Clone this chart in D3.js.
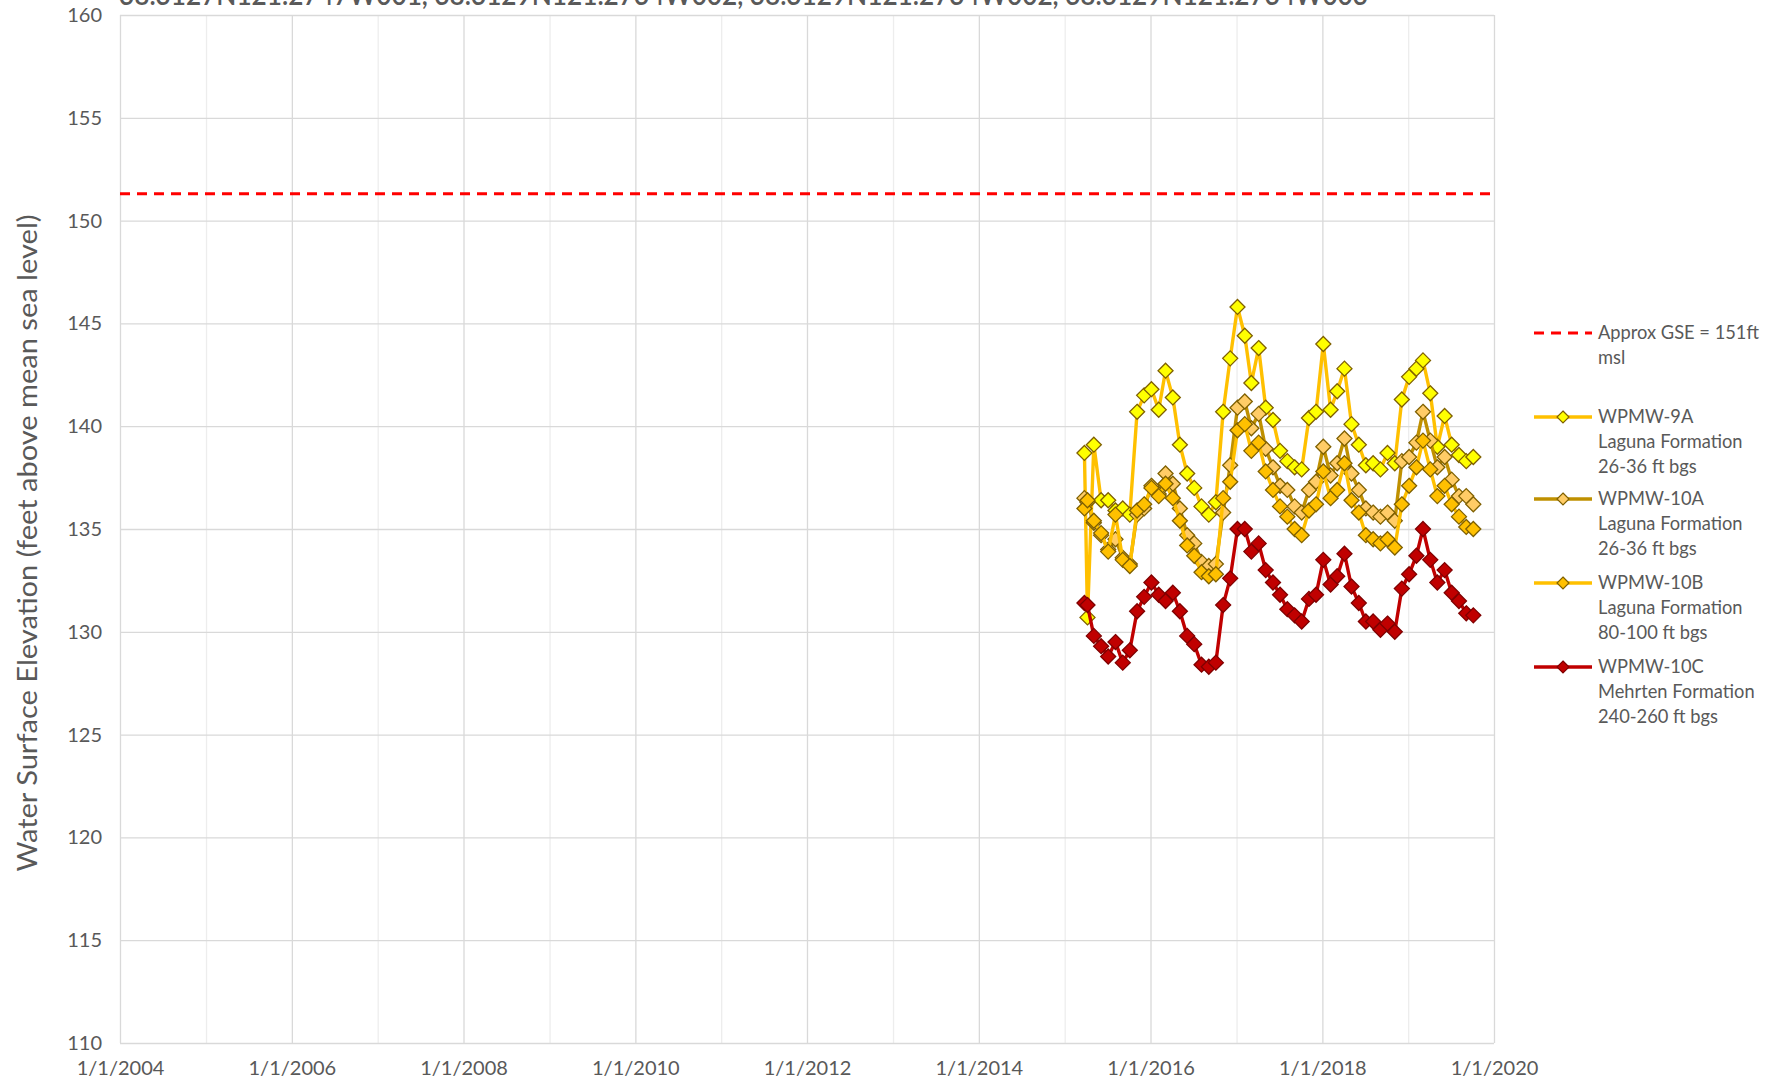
<!DOCTYPE html>
<html>
<head>
<meta charset="utf-8">
<script src="https://cdn.jsdelivr.net/npm/d3@7"></script>
<style>
  body { margin: 0; background: #fff; }
  text { font-family: Lato, "Open Sans", sans-serif; fill: #595959; }
</style>
</head>
<body>
<div id="chart"></div>
<script>
// sampling dates (shared by all four wells)
var dates = [
  "2015-03-26", "2015-04-08", "2015-05-05", "2015-06-05", "2015-07-05", "2015-08-05",
  "2015-09-05", "2015-10-05", "2015-11-05", "2015-12-05",
  "2016-01-05", "2016-02-05", "2016-03-05", "2016-04-05", "2016-05-05", "2016-06-05",
  "2016-07-05", "2016-08-05", "2016-09-05", "2016-10-05", "2016-11-05", "2016-12-05",
  "2017-01-05", "2017-02-05", "2017-03-05", "2017-04-05", "2017-05-05", "2017-06-05",
  "2017-07-05", "2017-08-05", "2017-09-05", "2017-10-05", "2017-11-05", "2017-12-05",
  "2018-01-05", "2018-02-05", "2018-03-05", "2018-04-05", "2018-05-05", "2018-06-05",
  "2018-07-05", "2018-08-05", "2018-09-05", "2018-10-05", "2018-11-05", "2018-12-05",
  "2019-01-05", "2019-02-05", "2019-03-05", "2019-04-05", "2019-05-05", "2019-06-05",
  "2019-07-05", "2019-08-05", "2019-09-05", "2019-10-05"
];

var wpmw9A = [
  138.7, 130.7, 139.1, 136.4, 136.4, 135.9, 136.0, 135.7, 140.7, 141.5,
  141.8, 140.8, 142.7, 141.4, 139.1, 137.7, 137.0, 136.1, 135.7, 136.3, 140.7, 143.3,
  145.8, 144.4, 142.1, 143.8, 140.9, 140.3, 138.8, 138.3, 138.0, 137.9, 140.4, 140.7,
  144.0, 140.8, 141.7, 142.8, 140.1, 139.1, 138.1, 138.2, 137.9, 138.7, 138.2, 141.3,
  142.4, 142.8, 143.2, 141.6, 139.0, 140.5, 139.1, 138.6, 138.3, 138.5
];

var wpmw10A = [
  136.5, 136.3, 135.3, 134.7, 134.0, 134.5, 133.6, 133.3, 135.7, 136.0,
  137.1, 136.7, 137.7, 137.2, 136.0, 134.7, 134.3, 133.4, 133.2, 133.3, 135.8, 138.1,
  140.9, 141.2, 139.9, 140.6, 138.9, 138.0, 137.1, 136.9, 136.1, 135.8, 136.9, 137.3,
  139.0, 137.6, 138.2, 139.4, 137.7, 136.9, 136.0, 135.8, 135.6, 135.8, 135.4, 138.3,
  138.5, 139.2, 140.7, 139.3, 138.0, 138.5, 137.4, 136.6, 136.6, 136.2
];

var wpmw10B = [
  136.0, 136.4, 135.4, 134.8, 133.9, 135.7, 133.5, 133.2, 135.9, 136.2,
  137.0, 136.6, 137.2, 136.5, 135.4, 134.2, 133.7, 132.9, 132.7, 132.8, 136.5, 137.3,
  139.8, 140.1, 138.8, 139.2, 137.8, 136.9, 136.1, 135.6, 135.0, 134.7, 135.9, 136.2,
  137.8, 136.5, 136.9, 138.2, 136.4, 135.8, 134.7, 134.5, 134.3, 134.5, 134.1, 136.2,
  137.1, 138.0, 139.3, 137.9, 136.6, 137.1, 136.2, 135.6, 135.1, 135.0
];

var wpmw10C = [
  131.4, 131.3, 129.8, 129.3, 128.8, 129.5, 128.5, 129.1, 131.0, 131.7,
  132.4, 131.8, 131.5, 131.9, 131.0, 129.8, 129.4, 128.4, 128.3, 128.5, 131.3, 132.6,
  135.0, 135.0, 133.9, 134.3, 133.0, 132.4, 131.8, 131.1, 130.8, 130.5, 131.6, 131.8,
  133.5, 132.3, 132.7, 133.8, 132.2, 131.4, 130.5, 130.5, 130.1, 130.4, 130.0, 132.1,
  132.8, 133.7, 135.0, 133.5, 132.4, 133.0, 131.9, 131.5, 130.9, 130.8
];

var gseLevel = 151.3;
var yTicks = [110, 115, 120, 125, 130, 135, 140, 145, 150, 155, 160];
var xMajorYears = [2004, 2006, 2008, 2010, 2012, 2014, 2016, 2018, 2020];
var xMinorYears = [2005, 2007, 2009, 2011, 2013, 2015, 2017, 2019];
var seriesNames = ["WPMW-9A", "WPMW-10A", "WPMW-10B", "WPMW-10C"];
var seriesNotes = [
  ["Laguna Formation", "26-36 ft bgs"],
  ["Laguna Formation", "26-36 ft bgs"],
  ["Laguna Formation", "80-100 ft bgs"],
  ["Mehrten Formation", "240-260 ft bgs"]
];
var gseLabel = ["Approx GSE = 151ft", "msl"];
var titleText = "38.3127N121.2747W001, 38.3129N121.2734W002, 38.3129N121.2734W002, 38.3129N121.2734W003";

(function() {

  var W = 1775, H = 1082;
  var margin = {top: 15, right: 281, bottom: 39, left: 120},
      width = W - margin.left - margin.right,
      height = H - margin.top - margin.bottom;

  // line colour, marker fill, marker outline
  var styles = [
    {line: '#FFC000', fill: '#FFFF00', stroke: '#7F6000'},
    {line: '#BF9000', fill: '#FFCC66', stroke: '#7F6000'},
    {line: '#FFC000', fill: '#FFC000', stroke: '#7F6000'},
    {line: '#C00000', fill: '#C00000', stroke: '#7F0000'}
  ];
  var allSeries = [wpmw9A, wpmw10A, wpmw10B, wpmw10C];

  var parseDate = d3.utcParse('%Y-%m-%d');
  var yr = function(y) { return new Date(Date.UTC(y, 0, 1)); };

  var x = d3.scaleUtc().domain([yr(2004), yr(2020)]).range([0, width]);
  var y = d3.scaleLinear().domain([110, 160]).range([height, 0]);

  var svgRoot = d3.select('#chart').append('svg')
      .attr('width', W)
      .attr('height', H);

  // title, cut off by the top edge as in the source
  svgRoot.append('text')
      .attr('x', 119)
      .attr('y', 5)
      .attr('textLength', 1249)
      .attr('lengthAdjust', 'spacingAndGlyphs')
      .style('font-size', '28px')
      .style('font-weight', 600)
      .text(titleText);

  var svg = svgRoot.append('g')
      .attr('transform', 'translate(' + margin.left + ',' + margin.top + ')');

  // minor vertical gridlines
  svg.append('g')
      .attr('transform', 'translate(0,' + height + ')')
      .call(d3.axisBottom(x).tickValues(xMinorYears.map(yr)).tickSize(-height).tickFormat(''))
      .call(function(g) { g.select('.domain').remove(); })
      .selectAll('line').attr('stroke', '#EDEDED').attr('stroke-width', 1.3);

  // major vertical gridlines + labels
  var fmt = d3.utcFormat('%-m/%-d/%Y');
  var xAxis = svg.append('g')
      .attr('transform', 'translate(0,' + height + ')')
      .call(d3.axisBottom(x).tickValues(xMajorYears.map(yr)).tickSize(-height).tickPadding(0).tickFormat(fmt));
  xAxis.select('.domain').remove();
  xAxis.selectAll('line').attr('stroke', '#D9D9D9').attr('stroke-width', 1.3);
  xAxis.selectAll('text')
      .attr('y', 32)
      .attr('dy', 0)
      .style('font-size', '20px')
      .style('fill', '#595959');

  // horizontal gridlines + labels
  var yAxis = svg.append('g')
      .call(d3.axisLeft(y).tickValues(yTicks).tickSize(-width).tickPadding(18));
  yAxis.select('.domain').remove();
  yAxis.selectAll('line').attr('stroke', '#D9D9D9').attr('stroke-width', 1.3);
  yAxis.selectAll('text')
      .style('font-size', '20px')
      .style('fill', '#595959');

  // y axis title
  svgRoot.append('text')
      .attr('transform', 'translate(28,543) rotate(-90)')
      .attr('text-anchor', 'middle')
      .attr('dy', '0.35em')
      .attr('textLength', 657)
      .attr('lengthAdjust', 'spacingAndGlyphs')
      .style('font-size', '27px')
      .text('Water Surface Elevation (feet above mean sea level)');

  // ground surface elevation
  svg.append('line')
      .attr('x1', 0).attr('x2', width)
      .attr('y1', y(gseLevel)).attr('y2', y(gseLevel))
      .attr('stroke', '#FF0000')
      .attr('stroke-width', 3)
      .attr('stroke-dasharray', '10,7');

  var diamond = function(r) {
    return 'M0,' + (-r) + 'L' + r + ',0L0,' + r + 'L' + (-r) + ',0Z';
  };

  var line = d3.line()
      .x(function(d) { return x(d.date); })
      .y(function(d) { return y(d.value); });

  // draw series in legend order (last on top)
  allSeries.forEach(function(vals, i) {
    var data = vals.map(function(v, j) { return {date: parseDate(dates[j]), value: v}; });
    var g = svg.append('g');
    g.append('path')
        .datum(data)
        .attr('fill', 'none')
        .attr('stroke', styles[i].line)
        .attr('stroke-width', 3.4)
        .attr('stroke-linejoin', 'round')
        .attr('d', line);
    g.selectAll('path.pt')
        .data(data)
        .enter().append('path')
        .attr('class', 'pt')
        .attr('transform', function(d) { return 'translate(' + x(d.date) + ',' + y(d.value) + ')'; })
        .attr('d', diamond(7.5))
        .attr('fill', styles[i].fill)
        .attr('stroke', styles[i].stroke)
        .attr('stroke-width', 1.3);
  });

  // legend
  var lx0 = 1534, lx1 = 1592, tx = 1598, lh = 24.8;
  var legend = svgRoot.append('g');

  legend.append('line')
      .attr('x1', lx0).attr('x2', lx1)
      .attr('y1', 333).attr('y2', 333)
      .attr('stroke', '#FF0000')
      .attr('stroke-width', 3)
      .attr('stroke-dasharray', '10,7');
  gseLabel.forEach(function(t, k) {
    legend.append('text')
        .attr('x', tx).attr('y', 333 + k * lh)
        .attr('dy', '0.35em')
        .style('font-size', '18.3px')
        .text(t);
  });

  var rowY = [417, 499, 583, 667];
  seriesNames.forEach(function(name, i) {
    var cy = rowY[i];
    legend.append('line')
        .attr('x1', lx0).attr('x2', lx1)
        .attr('y1', cy).attr('y2', cy)
        .attr('stroke', styles[i].line)
        .attr('stroke-width', 3.4);
    legend.append('path')
        .attr('transform', 'translate(' + ((lx0 + lx1) / 2) + ',' + cy + ')')
        .attr('d', diamond(6))
        .attr('fill', styles[i].fill)
        .attr('stroke', styles[i].stroke)
        .attr('stroke-width', 1.2);
    [name].concat(seriesNotes[i]).forEach(function(t, k) {
      legend.append('text')
          .attr('x', tx).attr('y', cy + k * lh)
          .attr('dy', '0.35em')
          .style('font-size', '18.3px')
          .text(t);
    });
  });

})();
</script>
</body>
</html>
